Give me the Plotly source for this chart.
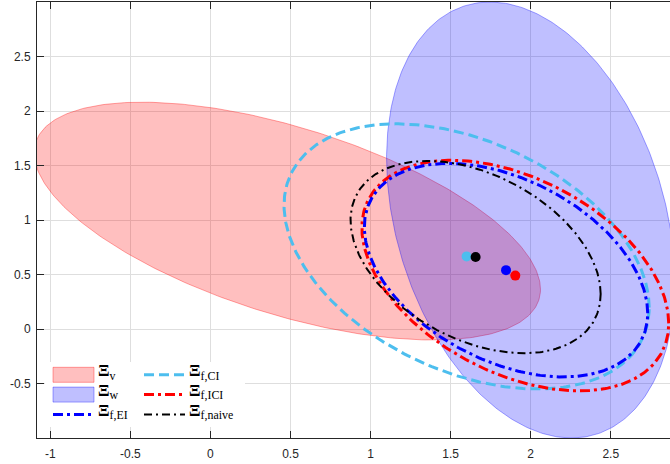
import numpy as np
import plotly.graph_objects as go

# ---- data ----
labels = ["<b>Ξ</b><sub>v</sub>", "<b>Ξ</b><sub>w</sub>", "<b>Ξ</b><sub>f,CI</sub>",
          "<b>Ξ</b><sub>f,ICI</sub>", "<b>Ξ</b><sub>f,EI</sub>", "<b>Ξ</b><sub>f,naive</sub>"]
# ellipse centres
cx = [0.48, 2.00, 1.600, 1.904, 1.846, 1.656]
cy = [0.99, 1.00, 0.666, 0.490, 0.540, 0.660]
# ellipse shape matrices [[sxx, sxy], [sxy, syy]]
sxx = [2.50, 0.81, 1.300, 0.918, 0.783, 0.610]
sxy = [-0.99, -0.51, -0.535, -0.420, -0.350, -0.265]
syy = [1.19, 4.00, 1.479, 1.119, 0.960, 0.778]

# fused estimate means (dots): CI, naive, EI, ICI
dot_x = [1.600, 1.656, 1.846, 1.904]
dot_y = [0.666, 0.660, 0.540, 0.490]
dot_colors = ["#4DBEEE", "#000000", "#0000FF", "#FF0000"]

x_ticks = [-1, -0.5, 0, 0.5, 1, 1.5, 2, 2.5]
x_ticktext = ["-1", "-0.5", "0", "0.5", "1", "1.5", "2", "2.5"]
y_ticks = [-0.5, 0, 0.5, 1, 1.5, 2, 2.5]
y_ticktext = ["-0.5", "0", "0.5", "1", "1.5", "2", "2.5"]

W, H = 670, 464
ML, MR, MT, MB = 37, 0, 2, 26
PW, PH = W - ML - MR, H - MT - MB


def px_x(p):
    return (p - ML) / PW


def px_y(p):
    return 1 - (p - MT) / PH


def ellipse(i, n=361):
    M = np.array([[sxx[i], sxy[i]], [sxy[i], syy[i]]])
    L = np.linalg.cholesky(M)
    t = np.linspace(0, 2 * np.pi, n)
    pts = L @ np.vstack([np.cos(t), np.sin(t)])
    return cx[i] + pts[0], cy[i] + pts[1]


fill_colors = ["rgba(255,0,0,0.25)", "rgba(0,0,255,0.25)"]
edge_colors = ["rgba(255,0,0,0.35)", "rgba(0,0,255,0.35)"]
line_styles = {
    2: dict(color="#4DBEEE", width=3, dash="10px,5px"),
    3: dict(color="#FF0000", width=3, dash="10px,4px,3px,4px"),
    4: dict(color="#0000FF", width=3, dash="10px,4px,3px,4px"),
    5: dict(color="#000000", width=2, dash="8px,4px,2px,4px"),
}
# legend layout: (legend id, symbol x0 px, row centre y px)
legend_slot = {0: ("legend", 53, 374.8), 1: ("legend", 53, 394.6), 4: ("legend", 53, 414.4),
               2: ("legend2", 144, 374.8), 3: ("legend2", 144, 394.6), 5: ("legend2", 144, 414.4)}

fig = go.Figure()
shapes = [dict(type="rect", xref="paper", yref="paper",
               x0=px_x(45), x1=px_x(245), y0=px_y(427), y1=px_y(362),
               fillcolor="white", line=dict(width=0), layer="above")]

# filled ellipses
for i in range(2):
    ex, ey = ellipse(i)
    fig.add_trace(go.Scatter(x=ex, y=ey, mode="lines", fill="toself",
                             fillcolor=fill_colors[i],
                             line=dict(color=edge_colors[i], width=1),
                             legendgroup=str(i), showlegend=False, hoverinfo="skip"))

# fused ellipses (line only)
for i in [2, 3, 4, 5]:
    ex, ey = ellipse(i)
    fig.add_trace(go.Scatter(x=ex, y=ey, mode="lines", line=line_styles[i],
                             legendgroup=str(i), showlegend=False, hoverinfo="skip"))

# mean dots
for k in range(4):
    fig.add_trace(go.Scatter(x=[dot_x[k]], y=[dot_y[k]], mode="markers",
                             marker=dict(size=10, color=dot_colors[k]),
                             showlegend=False, hoverinfo="skip"))

# legend entries (text from the legend, symbols drawn at MATLAB size)
for i in [0, 1, 4, 2, 3, 5]:
    lg, sx, sy = legend_slot[i]
    fig.add_trace(go.Scatter(x=[None], y=[None], mode="lines",
                             line=dict(width=0, color="white"),
                             name='<span style="font-size:17px">' + labels[i] + "</span>",
                             legend=lg, legendgroup=str(i), hoverinfo="skip"))
    if i < 2:
        shapes.append(dict(type="rect", xref="paper", yref="paper",
                           x0=px_x(sx), x1=px_x(sx + 41), y0=px_y(sy + 7.5), y1=px_y(sy - 7.5),
                           fillcolor=fill_colors[i], line=dict(color=edge_colors[i], width=1),
                           layer="above"))
    else:
        st = line_styles[i]
        shapes.append(dict(type="line", xref="paper", yref="paper",
                           x0=px_x(sx), x1=px_x(sx + 41), y0=px_y(sy), y1=px_y(sy),
                           line=dict(color=st["color"], width=st["width"], dash=st["dash"]),
                           layer="above"))

axis_common = dict(showgrid=True, gridcolor="#DEDEDE", gridwidth=1,
                   zeroline=False, showline=True, linecolor="#262626", linewidth=1,
                   ticks="inside", ticklen=7, tickcolor="#262626", tickwidth=1,
                   tickfont=dict(family="Liberation Sans, Arial, sans-serif", size=12, color="#262626"))

legend_font = dict(family="Liberation Serif, DejaVu Serif, serif", size=13, color="black")
legend_top = px_y(356)

fig.update_layout(
    width=W, height=H,
    margin=dict(l=ML, r=MR, t=MT, b=MB),
    paper_bgcolor="white", plot_bgcolor="white",
    xaxis=dict(range=[-1.083, 2.870], tickvals=x_ticks, ticktext=x_ticktext,
               mirror="ticks", ticklabelstandoff=5, **axis_common),
    yaxis=dict(range=[-1.0, 3.0], tickvals=y_ticks, ticktext=y_ticktext,
               mirror=False, ticklabelstandoff=3, **axis_common),
    legend=dict(x=px_x(58), y=legend_top, xanchor="left", yanchor="top",
                bgcolor="rgba(0,0,0,0)", borderwidth=0, tracegroupgap=0,
                font=legend_font),
    legend2=dict(x=px_x(149), y=legend_top, xanchor="left", yanchor="top",
                 bgcolor="rgba(0,0,0,0)", borderwidth=0, tracegroupgap=0,
                 font=legend_font),
    shapes=shapes,
)

fig.write_html("out.html")
